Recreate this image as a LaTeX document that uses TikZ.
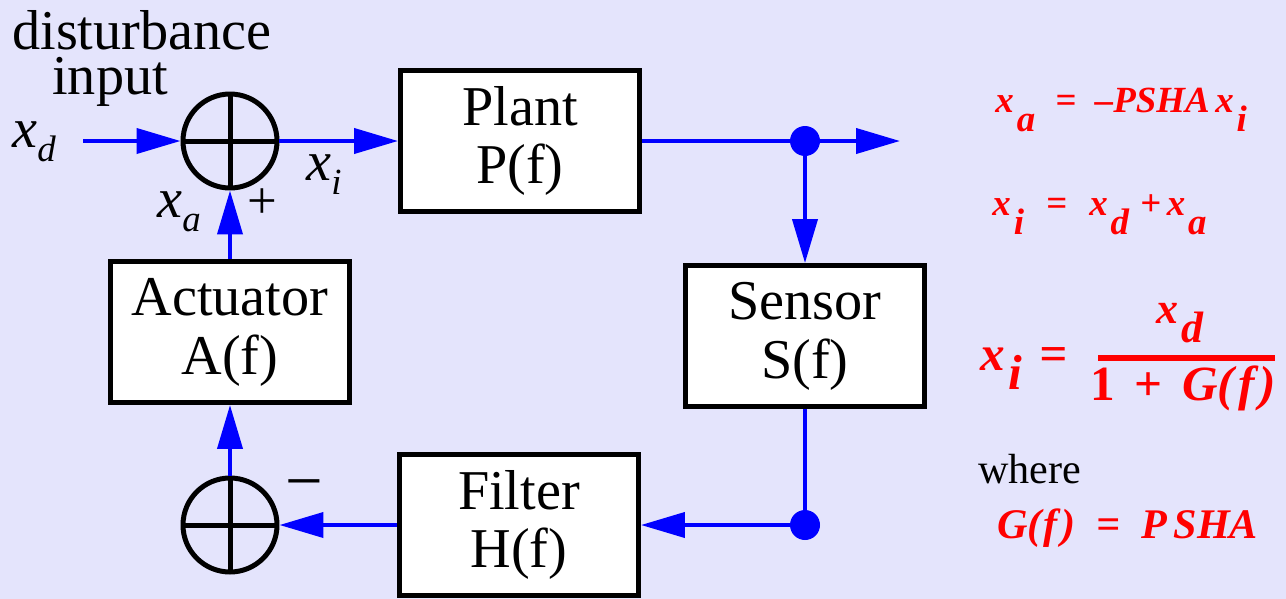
\documentclass[tikz,border=0pt]{standalone}
\usepackage{fontspec}
\setmainfont{Liberation Serif}
\usetikzlibrary{arrows.meta}
\definecolor{bgcol}{RGB}{228,228,252}
\newcommand{\bsub}[2]{\textit{#1}\raisebox{-8.5pt}{\fontsize{21}{21}\selectfont\textit{#2}}}
\newcommand{\rsub}[2]{#1\kern0.08em\raisebox{-11pt}{#2}}

\begin{document}
\begin{tikzpicture}[
    x=0.02cm, y=-0.02cm,
    block/.style={rectangle, draw, fill=white, line width=0.1cm, minimum width=4.78cm, minimum height=2.82cm, align=center, font=\fontsize{32}{33.5}\selectfont},
    sum/.style={circle, draw, line width=0.1cm, minimum size=1.88cm, inner sep=0pt, path picture={\draw[line width=0.1cm] (path picture bounding box.north) -- (path picture bounding box.south) (path picture bounding box.west) -- (path picture bounding box.east);}},
    tap/.style={circle, fill=blue, inner sep=0pt, minimum size=0.6cm},
    lbl/.style={inner sep=0pt, anchor=base west, font=\fontsize{32}{32}\selectfont},
    eqn/.style={inner sep=0pt, anchor=base west, text=red, font=\fontsize{21}{21}\selectfont\bfseries\itshape},
    arrow/.style={-{Triangle[length=0.88cm, width=0.5cm]}, blue, line width=0.08cm},
    wire/.style={blue, line width=0.08cm}
]

% Background
\path[use as bounding box, fill=bgcol] (0,0) rectangle (1286,599);

% Disturbance input
\node[lbl] (dist) at (12,49) {disturbance};
\node[lbl] (distin) at (52,94) {input};
\node[lbl] (xd) at (12,147) {\bsub{x}{d}};
\coordinate (xin) at (83,141);

% Summing junctions
\node[sum] (sumtop) at (230,141) {};
\node[sum] (sumbot) at (230,525) {};

% Blocks
\node[block] (plant) at (520,141) {Plant\\P(f)};
\node[block] (actuator) at (230,332) {Actuator\\A(f)};
\node[block] (sensor) at (805,336) {Sensor\\S(f)};
\node[block] (filter) at (519,525) {Filter\\H(f)};

% Take-off points
\node[tap] (tapout) at (805,141) {};
\node[tap] (tapfb) at (805,525) {};
\coordinate (xout) at (900,141);

% Signal labels
\node[lbl] (xi) at (306,180) {\bsub{x}{i}};
\node[lbl] (xa) at (157,217) {\bsub{x}{a}};
\node[lbl, font=\fontsize{30}{30}\selectfont] (plus) at (247,218) {+};
\node[lbl, font=\fontsize{38}{38}\selectfont] (minus) at (285,503) {−};

% Arrows
\draw[arrow] (xin) -- (sumtop);
\draw[arrow] (sumtop) -- (plant);
\draw[wire] (plant) -- (tapout);
\draw[arrow] (tapout) -- (xout);
\draw[arrow] (tapout) -- (sensor);
\draw[wire] (sensor) -- (tapfb);
\draw[arrow] (tapfb) -- (filter);
\draw[arrow] (filter) -- (sumbot);
\draw[arrow] (sumbot) -- (actuator);
\draw[arrow] (actuator) -- (sumtop);

% Equations
\node[eqn] (eqxa) at (995,112) {\rsub{x}{a}\hspace{0.55em}=\hspace{0.5em}–PSHA\kern0.15em\rsub{x}{i}};
\node[eqn] (eqxi) at (992,215) {\rsub{x}{i}\hspace{0.6em}=\hspace{0.6em}\rsub{x}{d}\kern0.3em+\kern0.15em\rsub{x}{a}};
\node[eqn, font=\fontsize{28}{28}\selectfont\bfseries\itshape] (eqfrac) at (980,370) {\rsub{x}{i}\hspace{0.35em}=};
\node[eqn, anchor=base, font=\fontsize{25}{25}\selectfont\bfseries\itshape] (num) at (1180,323) {\rsub{x}{d}};
\node[eqn, anchor=base, font=\fontsize{28}{28}\selectfont\bfseries\itshape] (den) at (1183,400) {\textup{1\hspace{0.4em}+\hspace{0.4em}}G(\kern0.08em f\kern0.1em)};
\draw[red, line width=0.12cm] (1098,358) -- (1275,358);
\node[lbl, font=\fontsize{24}{24}\selectfont] (where) at (978,483) {where};
\node[eqn, font=\fontsize{24}{24}\selectfont\bfseries\itshape] (eqg) at (997,538) {G(\kern0.05em f\kern0.08em)\hspace{0.5em}=\hspace{0.5em}P\kern0.15em SHA};

\end{tikzpicture}
\end{document}
